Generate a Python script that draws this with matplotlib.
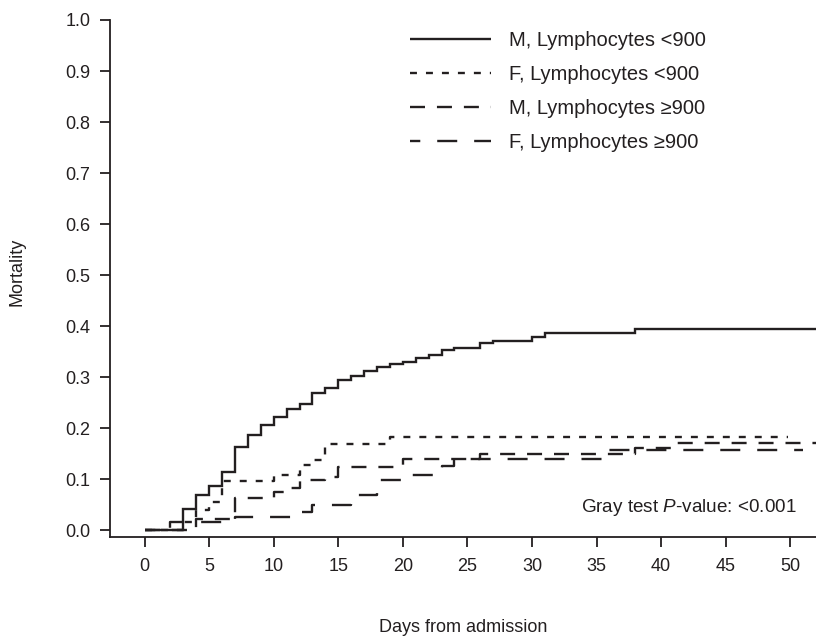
import matplotlib
matplotlib.use("Agg")
import matplotlib.pyplot as plt

plt.rcParams['font.family'] = ['Liberation Sans', 'DejaVu Sans']
plt.rcParams['mathtext.fontset'] = 'custom'
plt.rcParams['mathtext.it'] = 'Liberation Sans:italic'
plt.rcParams['mathtext.rm'] = 'Liberation Sans'
plt.rcParams['lines.scale_dashes'] = False

INK = '#231f20'

# ---- data ----
m_lo_days = [0, 3, 4, 5, 6, 7, 8, 9, 10, 11, 12, 13, 14, 15, 16, 17, 18, 19, 20,
             21, 22, 23, 24, 26, 27, 30, 31, 38]
m_lo_vals = [0, .042, .068, .086, .114, .162, .186, .206, .222, .238, .247, .268,
             .278, .294, .302, .312, .319, .325, .330, .338, .343, .352, .357,
             .366, .371, .378, .387, .394]
m_lo_end = 52

f_lo_days = [0, 3, 4, 5, 6, 10, 12, 13, 14, 19]
f_lo_vals = [0, .015, .040, .055, .096, .108, .127, .137, .168, .183]
f_lo_end = 49.8

m_hi_days = [0, 4, 7, 10, 11, 12, 14, 15, 20, 26, 38, 41]
m_hi_vals = [0, .022, .063, .075, .082, .098, .104, .124, .140, .150, .160, .170]
m_hi_end = 52

f_hi_days = [0, 2, 7, 12, 13, 16, 18, 20, 23, 24, 36]
f_hi_vals = [0, .015, .026, .036, .049, .068, .099, .108, .125, .140, .156]
f_hi_end = 51

labels = ['M, Lymphocytes <900', 'F, Lymphocytes <900',
          'M, Lymphocytes \u2265900', 'F, Lymphocytes \u2265900']
x_ticks = [0, 5, 10, 15, 20, 25, 30, 35, 40, 45, 50]
y_ticks = [0.0, 0.1, 0.2, 0.3, 0.4, 0.5, 0.6, 0.7, 0.8, 0.9, 1.0]

W, H = 816, 638
fig = plt.figure(figsize=(W / 100, H / 100), dpi=100)
left, right, top, bottom = 110, 816, 20, 537
ax = fig.add_axes([left / W, 1 - bottom / H, (right - left) / W, (bottom - top) / H])

series = [
    (m_lo_days, m_lo_vals, m_lo_end, (None, None)),
    (f_lo_days, f_lo_vals, f_lo_end, (0, (5.0, 6.5))),
    (m_hi_days, m_hi_vals, m_hi_end, (0, (10.8, 8.6))),
    (f_hi_days, f_hi_vals, f_hi_end, (7, (14.4, 12.2))),
]
for (d, v, e, ls), lab in zip(series, labels):
    xs = list(d) + [e]
    ys = list(v) + [v[-1]]
    line, = ax.step(xs, ys, where='post', color=INK, lw=1.7, label=lab,
                    solid_joinstyle='miter', dash_capstyle='butt',
                    solid_capstyle='butt')
    if ls[1] is not None:
        line.set_linestyle(ls)

ax.set_xlim(-2.68, 52.0)
ax.set_ylim(-0.0137, 1.0)
ax.set_xticks(x_ticks)
ax.set_yticks(y_ticks)
ax.set_yticklabels([f'{t:.1f}' for t in y_ticks])
for s in ['top', 'right']:
    ax.spines[s].set_visible(False)
for s in ['left', 'bottom']:
    ax.spines[s].set_linewidth(1.3)
    ax.spines[s].set_color(INK)
ax.tick_params(axis='both', direction='out', length=7, width=1.3, colors=INK,
               labelsize=13, labelcolor=INK)
ax.tick_params(axis='x', pad=8)
ax.tick_params(axis='y', pad=7)

fig.text(17 / W, 1 - 272 / H, 'Mortality', rotation=90, ha='center', va='center',
         fontsize=13, color=INK)
fig.text(463 / W, 1 - 627 / H, 'Days from admission', ha='center', va='center',
         fontsize=13, color=INK)
fig.text(797 / W, 1 - 507 / H, r'Gray test $\mathit{P}$-value: <0.001', ha='right',
         va='center', fontsize=13.6, color=INK)

leg = ax.legend(loc='upper left', bbox_to_anchor=(410 / W, 1 - 31 / H),
                bbox_transform=fig.transFigure, frameon=False, fontsize=14.5,
                handlelength=4.0, handletextpad=0.9, labelspacing=0.75,
                borderpad=0, borderaxespad=0)
for t in leg.get_texts():
    t.set_color(INK)

fig.savefig('out.png', dpi=100)
